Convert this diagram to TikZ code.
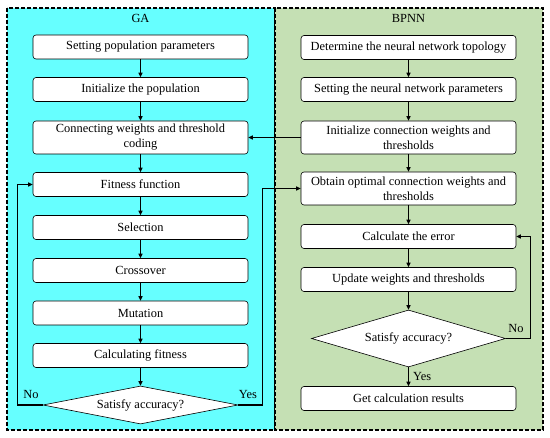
\documentclass[tikz,border=0pt]{standalone}
\usepackage{fontspec}
\setmainfont{Liberation Serif}
\usetikzlibrary{positioning,arrows.meta,shapes.geometric}
\definecolor{gacyan}{RGB}{102,255,255}
\definecolor{bpgreen}{RGB}{197,224,180}

\begin{document}
\begin{tikzpicture}[x=1pt,y=-1pt,>={Triangle[length=4.5pt,width=4pt]},
  panel/.style={line width=1.2pt,dash pattern=on 4pt off 2pt},
  box/.style={draw,rounded corners=3pt,fill=white,line width=0.6pt,minimum width=215pt,minimum height=24pt,inner sep=1pt,align=center,font=\fontsize{12.4}{15}\selectfont},
  cond/.style={draw,diamond,fill=white,line width=0.6pt,inner sep=0pt,aspect=4,font=\fontsize{12.4}{15}\selectfont},
  flow/.style={->,line width=1.2pt},
  tag/.style={font=\fontsize{12.4}{14}\selectfont,inner sep=1pt}]
\useasboundingbox (0,0) rectangle (550,438);
\draw[panel,fill=gacyan] (7,8) rectangle (275,430);
\draw[panel,fill=bpgreen] (275,8) rectangle (543,430);
\node[tag] (ga) at (140.5,18) {GA};
\node[tag] (bp) at (408.5,18) {BPNN};
% GA side
\node[box] (pop) at (140.5,47) {Setting population parameters};
\node[box] (ini) at (140.5,89.5) {Initialize the population};
\node[box,minimum height=33pt] (code) at (140.5,137.5) {Connecting weights and threshold\\coding};
\node[box] (fit) at (140.5,184.5) {Fitness function};
\node[box] (sel) at (140.5,227.5) {Selection};
\node[box] (cro) at (140.5,270.5) {Crossover};
\node[box] (mut) at (140.5,313) {Mutation};
\node[box] (cal) at (140.5,355.5) {Calculating fitness};
\node[cond,minimum width=195pt,minimum height=38pt] (gadec) at (140.5,405) {Satisfy accuracy?};
% BPNN side
\node[box] (topo) at (408.5,47.5) {Determine the neural network topology};
\node[box] (par) at (408.5,89.5) {Setting the neural network parameters};
\node[box,minimum height=33pt] (wt) at (408.5,137.5) {Initialize connection weights and\\thresholds};
\node[box,minimum height=33pt] (opt) at (408.5,188.5) {Obtain optimal connection weights and\\thresholds};
\node[box] (err) at (408.5,236.5) {Calculate the error};
\node[box] (upd) at (408.5,279.5) {Update weights and thresholds};
\node[cond,aspect=3,minimum width=194pt,minimum height=57pt] (bpdec) at (408.5,338.5) {Satisfy accuracy?};
\node[box] (res) at (408.5,398.5) {Get calculation results};

\foreach \a/\b in {pop/ini,ini/code,code/fit,fit/sel,sel/cro,cro/mut,mut/cal,cal/gadec,topo/par,par/wt,wt/opt,opt/err,err/upd,upd/bpdec}
  \draw[flow] (\a) -- (\b);
\draw[flow] (wt.west) -- (code.east);
\draw[flow] (gadec.east) -- ++(24,0) |- (opt.west);
\draw[flow] (gadec.west) -- ++(-25,0) |- (fit.west);
\draw[flow] (bpdec.east) -- ++(25,0) |- (err.east);
\draw[flow] (bpdec) -- (res) node[tag,midway,right=3pt] (yes2) {Yes};
\node[tag] (no1) at (31,395) {No};
\node[tag] (yes1) at (248,395) {Yes};
\node[tag] (no2) at (516,329) {No};
\end{tikzpicture}
\end{document}
